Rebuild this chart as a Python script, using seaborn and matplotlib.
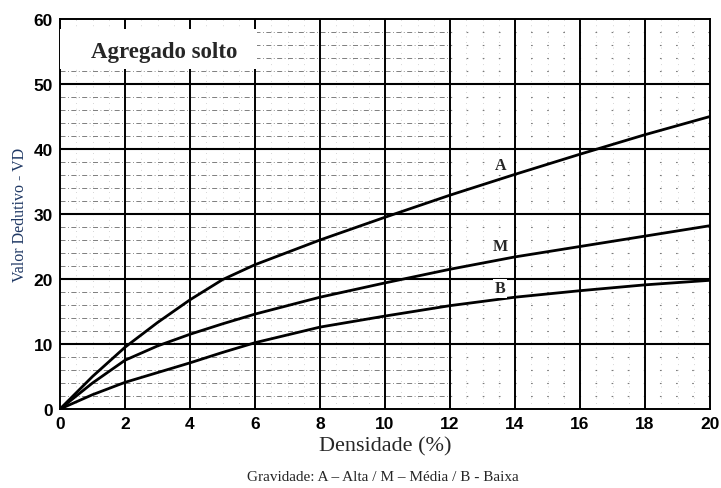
import matplotlib
matplotlib.use("Agg")
import matplotlib.pyplot as plt
from matplotlib.patches import Rectangle
import numpy as np
import pandas as pd
import seaborn as sns

# Densidade (%) and deduct values for each severity level
densidade = [0, 1, 2, 3, 4, 5, 6, 8, 10, 12, 14, 16, 18, 20]
vd_alta = [0, 5.0, 9.5, 13.3, 16.8, 19.9, 22.2, 26.0, 29.5, 32.9, 36.1, 39.2, 42.2, 45.0]
vd_media = [0, 4.0, 7.5, 9.7, 11.5, 13.1, 14.6, 17.2, 19.4, 21.5, 23.4, 25.0, 26.6, 28.2]
vd_baixa = [0, 2.2, 4.1, 5.6, 7.1, 8.7, 10.2, 12.6, 14.3, 15.9, 17.2, 18.2, 19.1, 19.8]

curve_names = ["A", "M", "B"]
x_ticks = [0, 2, 4, 6, 8, 10, 12, 14, 16, 18, 20]
y_ticks = [0, 10, 20, 30, 40, 50, 60]

df = pd.DataFrame({
    "Densidade": densidade * 3,
    "VD": vd_alta + vd_media + vd_baixa,
    "Gravidade": [n for n in curve_names for _ in densidade],
})

sns.set_style("white")
plt.rcParams["font.family"] = ["Liberation Sans", "DejaVu Sans"]

fig = plt.figure(figsize=(7.21, 4.89), dpi=100)
ax = fig.add_axes([60 / 721, 1 - 410 / 489, 650 / 721, 390 / 489])

ax.set_xlim(0, 20)
ax.set_ylim(0, 60)

# background grid: faint dotted verticals, dashed/dotted minor horizontals,
# heavy major lines every 2 % and every 10 VD
for xv in np.arange(0.5, 20, 0.5):
    if xv % 2 != 0:
        ax.axvline(xv, color="#b0b0b0", lw=0.5, ls=(0, (1, 7)), zorder=1)
for yv in range(2, 60, 2):
    if yv % 10 != 0:
        ax.hlines(yv, 0, 12, color="#6a6a6a", lw=0.6, ls=(0, (6, 3, 1, 3)), zorder=1)
        ax.hlines(yv, 12, 20, color="#7a7a7a", lw=0.8, ls=(0, (1.5, 13)), zorder=1)
for xv in range(2, 20, 2):
    ax.axvline(xv, color="black", lw=1.4, zorder=2)
for yv in range(10, 60, 10):
    ax.axhline(yv, color="black", lw=1.5, zorder=2)

# blank patch behind the chart title
ax.add_patch(Rectangle((0, 52.3), 6.05, 6.2, facecolor="white",
                       edgecolor="none", zorder=3))

sns.lineplot(data=df, x="Densidade", y="VD", hue="Gravidade",
             palette=["black"] * 3, lw=2.0, legend=False, ax=ax, zorder=4)

for s in ax.spines.values():
    s.set_color("black")
    s.set_linewidth(1.4)

ax.set_xticks(x_ticks)
ax.set_yticks(y_ticks)
ax.set_xticklabels([str(t) for t in x_ticks], fontsize=12.5, fontweight="bold")
ax.set_yticklabels([str(t) for t in y_ticks], fontsize=12.5, fontweight="bold")
ax.tick_params(axis="both", length=0, pad=5, colors="black")

ax.set_xlabel("Densidade (%)", fontsize=16, family=["Liberation Serif"],
              labelpad=4)
ax.set_ylabel("Valor Dedutivo - VD", fontsize=11.5, family=["Liberation Serif"],
              color="#1f3864", labelpad=4)

ax.text(0.95, 55.0, "Agregado solto", fontsize=16.5, fontweight="bold",
        family=["Liberation Serif"], va="center", ha="left", zorder=6)

# curve labels
label_pos = {"A": (13.55, 37.6), "M": (13.55, 25.0), "B": (13.55, 18.6)}
for name in curve_names:
    lx, ly = label_pos[name]
    ax.text(lx, ly, name, fontsize=11.5, fontweight="bold",
            family=["Liberation Serif"], ha="center", va="center", zorder=6,
            bbox=dict(facecolor="white", edgecolor="none", pad=1.2))

fig.text(383 / 721, 1 - 478 / 489, "Gravidade: A \u2013 Alta / M \u2013 M\u00e9dia / B - Baixa",
         fontsize=11, family=["Liberation Serif"], ha="center", va="center")

fig.savefig("out.png", dpi=100, facecolor="white")
